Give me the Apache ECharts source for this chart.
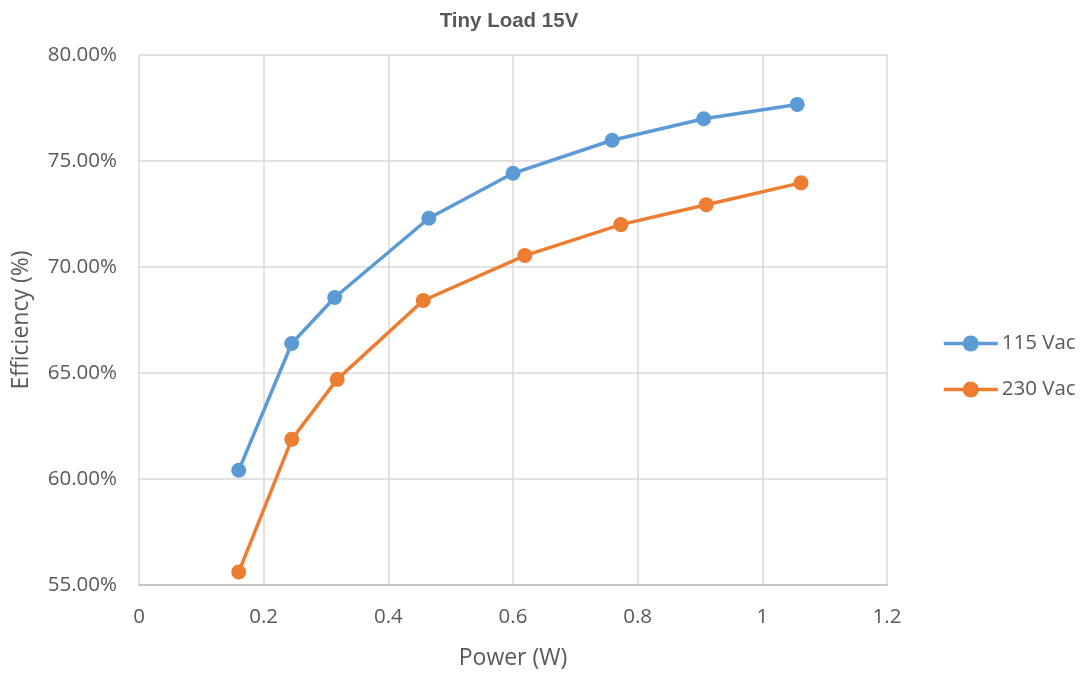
<!DOCTYPE html>
<html><head><meta charset="utf-8">
<script src="https://cdn.jsdelivr.net/npm/echarts@6/dist/echarts.min.js"></script>
<style>html,body{margin:0;padding:0;background:#fff}#c{width:1086px;height:675px}</style>
</head><body><div id="c"></div>
<script>
const power115 = [0.160, 0.245, 0.314, 0.465, 0.600, 0.759, 0.906, 1.056];
const eff115   = [60.41, 66.39, 68.56, 72.30, 74.42, 75.98, 76.99, 77.67];
const power230 = [0.160, 0.245, 0.318, 0.456, 0.619, 0.773, 0.910, 1.062];
const eff230   = [55.61, 61.87, 64.70, 68.42, 70.54, 72.00, 72.94, 73.97];
const seriesNames = ['115 Vac', '230 Vac'];
const colors = ['#5b9bd5', '#ed7d31'];

const font = '"Open Sans", "Liberation Sans", sans-serif';
const chart = echarts.init(document.getElementById('c'));
function mk(name, xs, ys, color) {
  return {
    name, type: 'line', data: xs.map((x, i) => [x, ys[i]]),
    symbol: 'circle', symbolSize: 15, color,
    lineStyle: { width: 3.5, color }, itemStyle: { color },
    emphasis: { disabled: true }
  };
}
chart.setOption({
  animation: false,
  title: { text: 'Tiny Load 15V', left: 504, top: 6, textAlign: 'center',
    textStyle: { fontFamily: '"Liberation Sans", Arial, sans-serif', fontWeight: 'bold', fontSize: 20.5, color: '#595959' } },
  grid: { left: 139, right: 199, top: 55, bottom: 89 },
  legend: {
    orient: 'vertical', left: 942, top: 333, padding: 0, itemGap: 25, itemWidth: 54, itemHeight: 20,
    data: seriesNames,
    lineStyle: { width: 3.5 },
    textStyle: { fontFamily: font, fontSize: 20.5, color: '#595959', padding: [0, 0, 0, -1] }
  },
  xAxis: {
    type: 'value', min: 0, max: 1.2, interval: 0.2,
    name: 'Power (W)', nameLocation: 'middle', nameGap: 62,
    nameTextStyle: { fontFamily: font, fontSize: 23, color: '#595959' },
    axisLine: { show: true, lineStyle: { color: '#bfbfbf', width: 1.5 } },
    axisTick: { show: false },
    axisLabel: { fontFamily: font, fontSize: 20.5, color: '#595959', margin: 22,
      formatter: v => (Math.round(v * 10) / 10).toString() },
    splitLine: { show: true, lineStyle: { color: '#d9d9d9', width: 1.5 } }
  },
  yAxis: {
    type: 'value', min: 55, max: 80, interval: 5,
    name: 'Efficiency (%)', nameLocation: 'middle', nameGap: 106, nameRotate: 90,
    nameTextStyle: { fontFamily: font, fontSize: 23, color: '#595959' },
    axisLine: { show: false }, axisTick: { show: false },
    axisLabel: { fontFamily: font, fontSize: 20.5, color: '#595959', margin: 22,
      formatter: v => v.toFixed(2) + '%' },
    splitLine: { show: true, lineStyle: { color: '#d9d9d9', width: 1.5 } }
  },
  series: [mk(seriesNames[0], power115, eff115, colors[0]), mk(seriesNames[1], power230, eff230, colors[1])]
});
</script></body></html>
